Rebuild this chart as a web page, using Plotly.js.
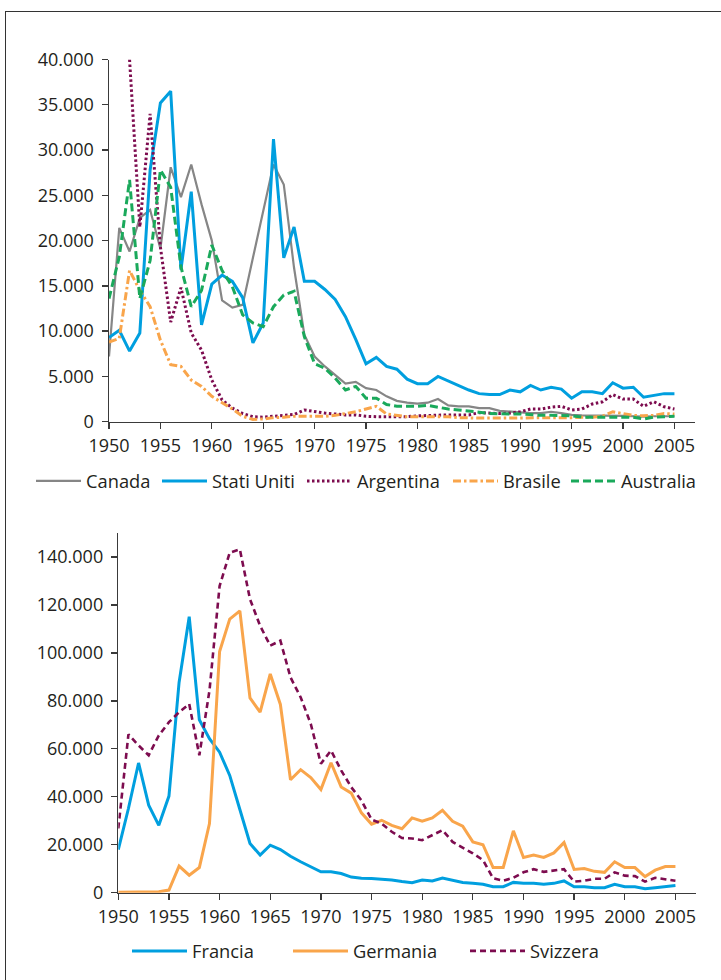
<!DOCTYPE html>
<html>
<head>
<meta charset="utf-8">
<script src="https://cdn.plot.ly/plotly-3.0.1.min.js"></script>
<style>
  html, body { margin: 0; padding: 0; background: #ffffff; }
  #frame {
    position: absolute; left: 5px; top: 11px; width: 740px; height: 990px;
    border-left: 1.5px solid #333; border-top: 1.5px solid #333;
  }
  #chart { position: absolute; left: 0; top: 0; width: 721px; height: 980px; }
</style>
</head>
<body>
<div id="frame"></div>
<div id="chart"></div>
<script>
// Anni (asse orizzontale comune)
const years = [1950,1951,1952,1953,1954,1955,1956,1957,1958,1959,
               1960,1961,1962,1963,1964,1965,1966,1967,1968,1969,
               1970,1971,1972,1973,1974,1975,1976,1977,1978,1979,
               1980,1981,1982,1983,1984,1985,1986,1987,1988,1989,
               1990,1991,1992,1993,1994,1995,1996,1997,1998,1999,
               2000,2001,2002,2003,2004,2005];

// Paesi di destinazione extraeuropei
const canada = [7200,21400,18800,22500,23400,19100,28100,24800,28400,24000,
                20000,13400,12600,12900,18100,23300,28400,26200,17000,9600,
                7200,6100,5200,4200,4400,3700,3500,2800,2300,2100,
                2000,2100,2500,1800,1700,1700,1500,1500,1200,1100,
                1000,950,950,1100,950,750,700,700,650,700,
                650,600,550,600,600,600];
const statiUniti = [9300,10100,7800,9800,27800,35200,36500,16800,25400,10700,
                    15200,16200,15500,13700,8700,10900,31200,18100,21500,15500,
                    15500,14600,13500,11600,9100,6400,7100,6100,5800,4700,
                    4200,4200,5000,4500,4000,3500,3100,3000,3000,3500,
                    3300,4000,3500,3800,3600,2600,3300,3300,3100,4300,
                    3700,3800,2700,2900,3100,3100];
const argentina = [null,null,40000,21500,34000,19300,11000,14800,9800,7900,
                   4600,2400,1500,900,550,500,600,700,800,1300,
                   1100,950,850,750,750,600,550,550,550,550,
                   650,700,700,750,750,750,1000,950,900,950,
                   1100,1400,1400,1600,1700,1300,1400,1950,2200,3000,
                   2500,2500,1700,2200,1650,1400];
const brasile = [8800,9200,16700,14500,12700,9000,6300,6100,4600,3900,
                 2800,2100,1400,600,250,300,450,500,600,600,
                 600,600,700,900,1100,1400,1700,850,700,550,
                 550,550,550,550,450,400,400,400,400,400,
                 400,450,450,450,450,450,500,500,600,1100,
                 900,700,650,700,900,850];
const australia = [13600,18200,26700,13600,17800,27800,25900,17100,12700,14500,
                   19500,16700,14900,11800,10900,10500,12700,14000,14400,9400,
                   6400,5900,4800,3500,3900,2600,2600,1900,1700,1700,
                   1700,1800,1600,1400,1300,1200,1050,900,850,850,
                   850,750,700,700,700,650,500,500,500,500,
                   500,500,300,500,550,600];

// Paesi di destinazione europei
const francia = [18000,35100,54100,36500,28100,40300,87700,115100,72100,64200,
                 58600,48900,34700,20500,15700,19800,18000,15200,12900,10800,
                 8700,8700,8000,6500,6000,5900,5700,5300,4700,4200,
                 5300,4900,6100,5300,4300,3900,3500,2500,2500,4300,
                 3900,3900,3500,3900,4900,2500,2500,2100,2100,3500,
                 2500,2500,1700,2100,2500,3000];
const germania = [200,300,300,300,400,1100,11100,7300,10500,28800,
                  100600,114100,117500,81200,75300,91200,78500,47100,51300,48000,
                  43000,54200,44100,41500,33300,28600,30200,28100,26700,31200,
                  29800,31200,34400,29800,27700,21200,20000,10500,10500,25800,
                  14700,15700,14700,16600,20900,9700,10100,8900,8500,12900,
                  10500,10500,6700,9400,10900,10900];
const svizzera = [26800,66000,61400,57300,65600,71100,75300,78700,57300,84300,
                  127900,141800,143200,122400,111300,103000,105100,89800,81500,70400,
                  53800,59300,51000,44000,38500,30500,28800,25400,22800,22600,
                  21900,24000,26100,21200,18800,16400,13600,6000,5000,6200,
                  8500,9800,8700,9400,9800,4600,5000,5800,5800,8500,
                  7100,6900,4600,6200,5500,5000];

const FONT = 'Open Sans, Noto Sans, sans-serif';
const INK = '#231f20';
const AXIS = '#3a3a3a';
const W = 721, H = 980;

function line(name, y, color, width, dash, xa, ya, leg) {
  return {
    type: 'scatter', mode: 'lines', name: name,
    x: years, y: y, xaxis: xa, yaxis: ya, legend: leg,
    connectgaps: false,
    line: { color: color, width: width, dash: dash, shape: 'linear' },
    hoverinfo: 'skip'
  };
}

const traces = [
  line('Canada', canada, '#868686', 2.2, 'solid', 'x', 'y', 'legend'),
  line('Stati Uniti', statiUniti, '#009fdf', 3, 'solid', 'x', 'y', 'legend2'),
  line('Argentina', argentina, '#7d0c4f', 3, '2.5px,2.5px', 'x', 'y', 'legend3'),
  line('Brasile', brasile, '#f9a54b', 3, '8px,3px,2.5px,3px', 'x', 'y', 'legend4'),
  line('Australia', australia, '#1aa95b', 3, '8px,4px', 'x', 'y', 'legend5'),
  line('Francia', francia, '#009fdf', 3, 'solid', 'x2', 'y2', 'legend6'),
  line('Germania', germania, '#f9a54b', 3, 'solid', 'x2', 'y2', 'legend7'),
  line('Svizzera', svizzera, '#7d0c4f', 2.6, '6px,4px', 'x2', 'y2', 'legend8')
];

function xAxis(left, right, anchor) {
  return {
    domain: [left / W, right / W], range: [1950, 2007], anchor: anchor,
    tickmode: 'linear', tick0: 1950, dtick: 5,
    ticks: 'outside', ticklen: 6, tickwidth: 1.3, tickcolor: AXIS,
    ticklabelstandoff: 1,
    showline: true, linecolor: AXIS, linewidth: 1.5,
    showgrid: false, zeroline: false, fixedrange: true,
    tickfont: { family: FONT, size: 18, color: INK }
  };
}
function yAxis(top, bottom, max, step, anchor) {
  return {
    domain: [1 - bottom / H, 1 - top / H], range: [0, max], anchor: anchor,
    tickmode: 'linear', tick0: 0, dtick: step, tickformat: ',d',
    ticks: 'outside', ticklen: 6, tickwidth: 1.3, tickcolor: AXIS,
    ticklabelstandoff: 4,
    showline: true, linecolor: AXIS, linewidth: 1.5,
    showgrid: false, zeroline: false, fixedrange: true,
    tickfont: { family: FONT, size: 18, color: INK }
  };
}

// One single-entry legend per series, so each entry sits at its own place
function legendAt(left, centerY, symbolWidth) {
  return {
    orientation: 'h', x: left / W, xanchor: 'left',
    y: 1 - centerY / H, yanchor: 'middle',
    bgcolor: 'rgba(0,0,0,0)', itemwidth: symbolWidth,
    font: { family: FONT, size: 18.3, color: INK }
  };
}

const layout = {
  width: W, height: H,
  margin: { l: 0, r: 0, t: 0, b: 0, autoexpand: false },
  paper_bgcolor: 'rgba(0,0,0,0)', plot_bgcolor: 'rgba(0,0,0,0)',
  separators: ',.',
  font: { family: FONT, size: 18, color: INK },
  showlegend: true,
  xaxis: xAxis(109, 695, 'y'),
  yaxis: yAxis(59.5, 421.7, 40000, 5000, 'x'),
  xaxis2: xAxis(118.3, 695.7, 'y2'),
  yaxis2: yAxis(533, 892.7, 150000, 20000, 'x2'),
  legend:  legendAt(31, 481, 45),
  legend2: legendAt(157, 481, 45),
  legend3: legendAt(302, 481, 45),
  legend4: legendAt(448, 481, 45),
  legend5: legendAt(566, 481, 45),
  legend6: legendAt(127, 951, 55),
  legend7: legendAt(288, 951, 55),
  legend8: legendAt(465, 951, 55)
};

Plotly.newPlot('chart', traces, layout, { staticPlot: true, displayModeBar: false });
</script>
</body>
</html>
